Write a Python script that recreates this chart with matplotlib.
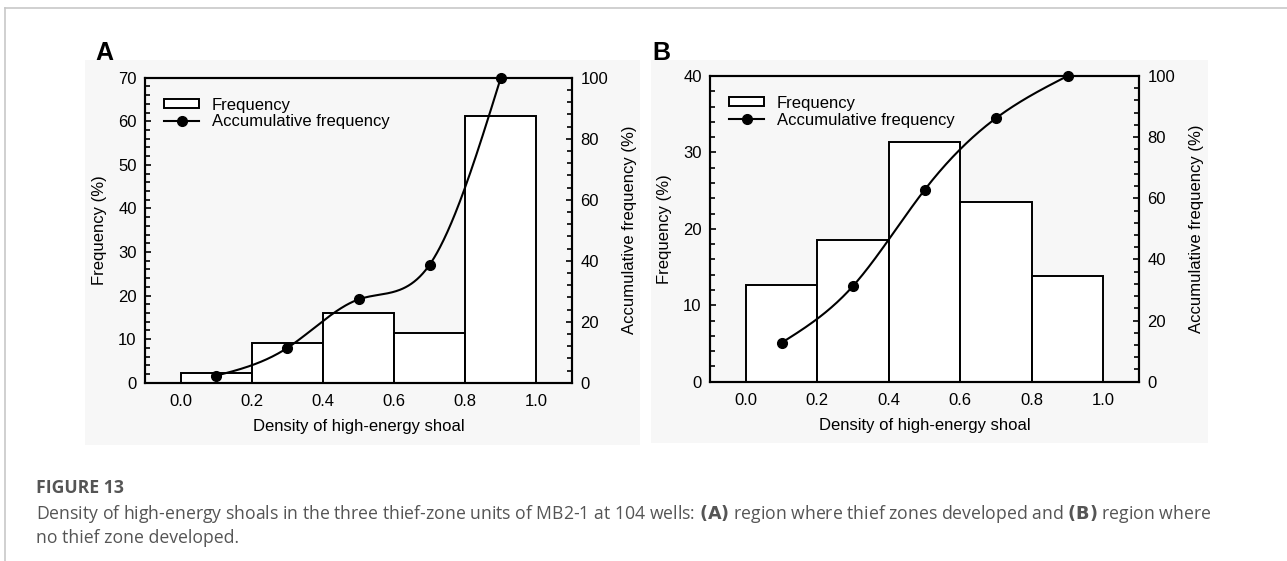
import numpy as np
import matplotlib
matplotlib.use("Agg")
import matplotlib.pyplot as plt
from matplotlib.ticker import MultipleLocator
from matplotlib.patches import Rectangle
from matplotlib.lines import Line2D

# data
bin_edges = [0.0, 0.2, 0.4, 0.6, 0.8, 1.0]
bin_centers = [0.1, 0.3, 0.5, 0.7, 0.9]
x_ticks = [0.0, 0.2, 0.4, 0.6, 0.8, 1.0]
freq_a = [2.3, 9.1, 15.9, 11.4, 61.3]    # region where thief zones developed
freq_b = [12.7, 18.6, 31.4, 23.5, 13.8]  # region where no thief zone developed
ylim_a = 70
ylim_b = 40

W, H = 1287, 561
FS = 12
plt.rcParams['font.family'] = ['Liberation Sans', 'DejaVu Sans']


def natural_spline(x, y, xs):
    # plain natural cubic spline, used only to draw the smooth curve
    x = np.asarray(x, float)
    y = np.asarray(y, float)
    n = len(x)
    h = np.diff(x)
    A = np.zeros((n, n))
    r = np.zeros(n)
    A[0, 0] = A[-1, -1] = 1
    for i in range(1, n - 1):
        A[i, i - 1] = h[i - 1]
        A[i, i] = 2 * (h[i - 1] + h[i])
        A[i, i + 1] = h[i]
        r[i] = 6 * ((y[i + 1] - y[i]) / h[i] - (y[i] - y[i - 1]) / h[i - 1])
    M = np.linalg.solve(A, r)
    idx = np.clip(np.searchsorted(x, xs) - 1, 0, n - 2)
    x0, x1 = x[idx], x[idx + 1]
    hi = x1 - x0
    t0, t1 = x1 - xs, xs - x0
    return (M[idx] * t0**3 / (6 * hi) + M[idx + 1] * t1**3 / (6 * hi)
            + (y[idx] / hi - M[idx] * hi / 6) * t0
            + (y[idx + 1] / hi - M[idx + 1] * hi / 6) * t1)


def px(x0, y0, x1, y1):
    # pixel box (top-left origin) -> figure fraction rect
    return [x0 / W, 1 - y1 / H, (x1 - x0) / W, (y1 - y0) / H]


fig = plt.figure(figsize=(W / 100, H / 100), dpi=100)

# page border and light panel backgrounds
fig.add_artist(Line2D([5 / W, 1], [1 - 8 / H, 1 - 8 / H], color='#c8c8c8', lw=1.2))
fig.add_artist(Line2D([5 / W, 5 / W], [0, 1 - 8 / H], color='#c8c8c8', lw=1.2))
for box in [(85, 60, 640, 445), (651, 60, 1208, 443)]:
    r = px(*box)
    fig.add_artist(Rectangle((r[0], r[1]), r[2], r[3], transform=fig.transFigure,
                             facecolor='#f7f7f7', edgecolor='none', zorder=0))


def panel(rect, freq, ytop, letter, lx):
    ax = fig.add_axes(rect)
    ax.set_facecolor('none')
    ax.bar(bin_edges[:-1], freq, width=0.2, align='edge', facecolor='white',
           edgecolor='black', linewidth=1.4)
    ax.set_xlim(-0.1, 1.1)
    ax.set_ylim(0, ytop)
    ax.set_xticks(x_ticks)
    ax.set_xticklabels(['%.1f' % v for v in x_ticks])
    ax.yaxis.set_major_locator(MultipleLocator(10))
    ax.yaxis.set_minor_locator(MultipleLocator(2))
    ax.tick_params(axis='x', length=0, pad=8, labelsize=FS)
    ax.tick_params(axis='y', which='both', direction='in', labelsize=FS, pad=6, width=1.2)
    ax.tick_params(axis='y', which='major', length=4)
    ax.tick_params(axis='y', which='minor', length=3.5)
    ax.set_xlabel('Density of high-energy shoal', fontsize=FS, labelpad=7)
    ax.set_ylabel('Frequency (%)', fontsize=FS, labelpad=8)
    for s in ax.spines.values():
        s.set_linewidth(1.5)

    cum = np.cumsum(freq)
    cum = cum / cum[-1] * 100
    ax2 = ax.twinx()
    xs = np.linspace(bin_centers[0], bin_centers[-1], 300)
    ax2.plot(xs, natural_spline(bin_centers, cum, xs), color='black', lw=1.5)
    ax2.plot(bin_centers, cum, 'o', color='black', markersize=7, clip_on=False)
    ax2.set_ylim(0, 100)
    ax2.yaxis.set_major_locator(MultipleLocator(20))
    ax2.yaxis.set_minor_locator(MultipleLocator(4))
    ax2.tick_params(axis='y', which='both', direction='in', labelsize=FS, pad=6, width=1.2)
    ax2.tick_params(axis='y', which='major', length=4)
    ax2.tick_params(axis='y', which='minor', length=3.5)
    ax2.set_ylabel('Accumulative frequency (%)', fontsize=FS, labelpad=10)
    for s in ax2.spines.values():
        s.set_linewidth(1.5)

    handles = [Rectangle((0, 0), 1, 1, facecolor='white', edgecolor='black', lw=1.4),
               Line2D([], [], color='black', lw=1.5, marker='o', markersize=7)]
    ax2.legend(handles, ['Frequency', 'Accumulative frequency'], loc='upper left',
               bbox_to_anchor=(0.045, 0.935), frameon=False, fontsize=FS,
               borderpad=0, borderaxespad=0, handlelength=2.1, handleheight=0.45,
               handletextpad=0.75, labelspacing=0.1)

    fig.text(lx / W, 1 - 60 / H, letter, fontsize=18, fontweight='bold', va='baseline')


panel(px(145, 77.7, 572, 382.7), freq_a, ylim_a, 'A', 95)
panel(px(710, 76, 1139, 381.7), freq_b, ylim_b, 'B', 652)

# caption
cap_fs = 12.7
fig.text(36 / W, 1 - 488 / H, 'FIGURE 13', fontsize=cap_fs, fontweight='bold',
         color='#555555', va='center', family='Open Sans')
fig.text(36 / W, 1 - 514 / H,
         'Density of high-energy shoals in the three thief-zone units of MB2-1 at 104 wells: '
         '$\\bf{(A)}$ region where thief zones developed and $\\bf{(B)}$ region where',
         fontsize=cap_fs, color='#555555', va='center', family='Open Sans')
fig.text(36 / W, 1 - 538 / H, 'no thief zone developed.', fontsize=cap_fs,
         color='#555555', va='center', family='Open Sans')

fig.savefig('out.png', dpi=100)
